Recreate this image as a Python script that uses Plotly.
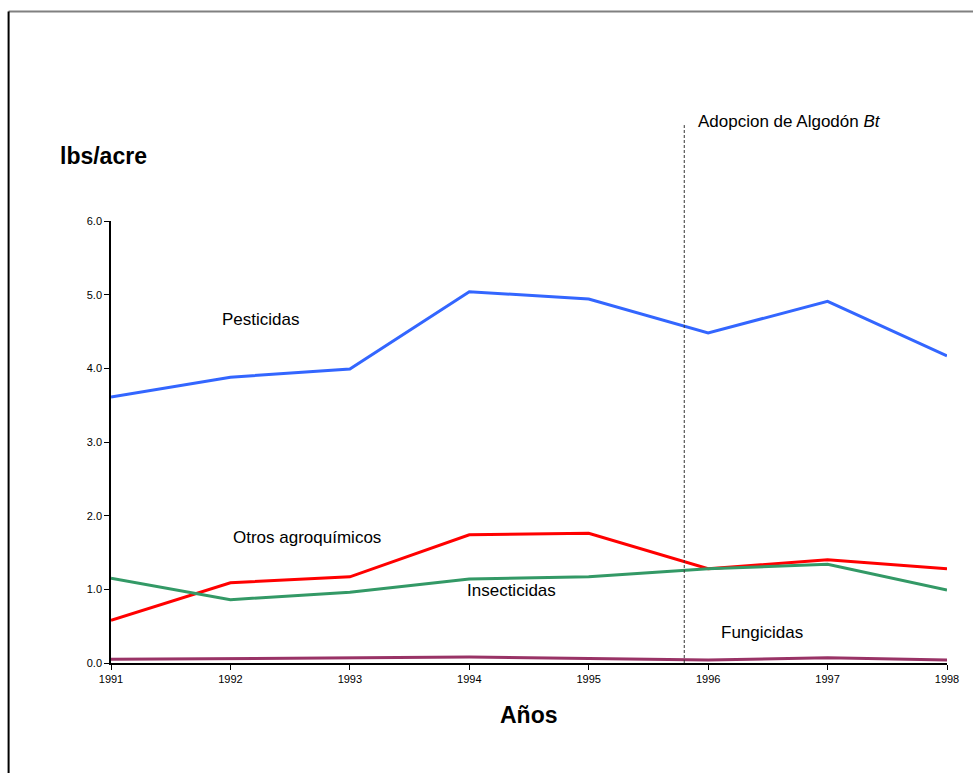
import plotly.graph_objects as go

years = [1991, 1992, 1993, 1994, 1995, 1996, 1997, 1998]
pesticidas = [3.61, 3.88, 3.99, 5.04, 4.94, 4.48, 4.91, 4.17]
otros = [0.58, 1.09, 1.17, 1.74, 1.76, 1.28, 1.40, 1.28]
insecticidas = [1.15, 0.86, 0.96, 1.14, 1.17, 1.28, 1.34, 0.99]
fungicidas = [0.05, 0.06, 0.06, 0.08, 0.06, 0.04, 0.07, 0.04]
adopcion_bt = 1995.8
y_ticks = [0, 1, 2, 3, 4, 5, 6]

NARROW = "Liberation Sans Narrow, Arial Narrow, Liberation Sans, Arial, sans-serif"
SANS = "Liberation Sans, Arial, sans-serif"

fig = go.Figure()
series = [
    (pesticidas, "#3366FF", "Pesticidas"),
    (otros, "#FF0000", "Otros agroquímicos"),
    (insecticidas, "#339966", "Insecticidas"),
    (fungicidas, "#993366", "Fungicidas"),
]
for vals, color, name in series:
    fig.add_trace(go.Scatter(x=years, y=vals, mode="lines", name=name,
                             line=dict(color=color, width=3), showlegend=False))

# Bt cotton adoption marker
fig.add_shape(type="line", xref="x", yref="paper", x0=adopcion_bt, x1=adopcion_bt,
              y0=0, y1=1.217, line=dict(color="#333333", width=1, dash="3px,2px"))

# frame lines (top and left)
fig.add_shape(type="line", xref="paper", yref="paper", x0=-0.1225, x1=1.04,
              y0=1.474, y1=1.474, line=dict(color="#808080", width=2))
fig.add_shape(type="line", xref="paper", yref="paper", x0=-0.1225, x1=-0.1225,
              y0=1.474, y1=-0.26, line=dict(color="#000000", width=2))

labels = [
    ("Pesticidas", 1992.25, 4.66, "center"),
    ("Otros agroquímicos", 1992.64, 1.7, "center"),
    ("Insecticidas", 1994.35, 0.99, "center"),
    ("Fungicidas", 1996.45, 0.42, "center"),
]
for txt, x, y, anchor in labels:
    fig.add_annotation(x=x, y=y, text=txt, showarrow=False, xanchor=anchor,
                       yanchor="middle", font=dict(family=NARROW, size=17, color="#000"))

fig.add_annotation(x=adopcion_bt + 0.1, xref="x", y=1.224, yref="paper",
                   text="Adopcion de Algodón <i>Bt</i>", showarrow=False,
                   xanchor="left", yanchor="middle",
                   font=dict(family=NARROW, size=17, color="#000"))
fig.add_annotation(x=-0.063, xref="paper", y=1.147, yref="paper", text="<b>lbs/acre</b>",
                   showarrow=False, xanchor="left", yanchor="middle",
                   font=dict(family=SANS, size=23, color="#000"))
fig.add_annotation(x=0.5, xref="paper", y=-0.117, yref="paper", text="<b>Años</b>",
                   showarrow=False, xanchor="center", yanchor="middle",
                   font=dict(family=SANS, size=23, color="#000"))

fig.update_xaxes(range=[1991, 1998], tickvals=years, ticktext=[str(y) for y in years],
                 showgrid=False, zeroline=False, showline=True, linecolor="#000",
                 linewidth=1.5, ticks="outside", ticklen=5, tickcolor="#000",
                 tickfont=dict(family=NARROW, size=11, color="#000"))
fig.update_yaxes(range=[0, 6], tickvals=y_ticks, ticktext=[f"{v:.1f}" for v in y_ticks],
                 showgrid=False, zeroline=False, showline=True, linecolor="#000",
                 linewidth=1.5, ticks="outside", ticklen=5, tickcolor="#000",
                 tickfont=dict(family=NARROW, size=11, color="#000"))

fig.update_layout(width=973, height=773, margin=dict(l=111, r=26, t=221, b=110),
                  paper_bgcolor="white", plot_bgcolor="white")
fig.write_html("out.html")
